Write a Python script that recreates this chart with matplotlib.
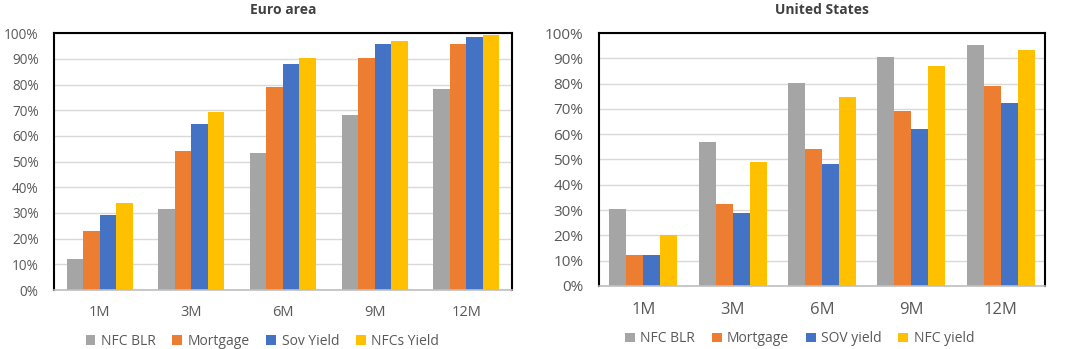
import matplotlib.pyplot as plt
import numpy as np

horizons = ["1M", "3M", "6M", "9M", "12M"]

# Euro area
ea_labels = ["NFC BLR", "Mortgage", "Sov Yield", "NFCs Yield"]
ea_nfc_blr = [12, 31.7, 53.5, 68.3, 78.4]
ea_mortgage = [22.9, 54.3, 79.0, 90.3, 95.6]
ea_sov = [29.4, 64.8, 87.8, 95.7, 98.6]
ea_nfc_yield = [33.8, 69.3, 90.4, 96.9, 99.1]

# United States
us_labels = ["NFC BLR", "Mortgage", "SOV yield", "NFC yield"]
us_nfc_blr = [30.5, 56.9, 80.1, 90.5, 95.5]
us_mortgage = [12.3, 32.3, 54.1, 69.3, 79.0]
us_sov = [12.3, 28.8, 48.3, 62.1, 72.3]
us_nfc_yield = [20.2, 49.2, 74.7, 87.1, 93.3]

colors = ["#A5A5A5", "#ED7D31", "#4472C4", "#FFC000"]
plt.rcParams['font.family'] = ['Open Sans', 'DejaVu Sans']

fig = plt.figure(figsize=(10.71, 3.49), dpi=100)
ax1 = fig.add_axes([0.0504, 0.169, 0.4276, 0.736])
ax2 = fig.add_axes([0.559, 0.181, 0.417, 0.724])


def draw(ax, series, labels, title, tick_fs, cat_fs, leg_fs, leg_x, leg_y, bw, xpad):
    x = np.arange(len(horizons))
    for i, vals in enumerate(series):
        ax.bar(x + (i - 1.5) * bw, vals, bw, color=colors[i], label=labels[i], zorder=2)
    ax.set_xlim(-0.5, 4.5)
    ax.set_ylim(0, 100)
    ax.set_yticks(range(0, 101, 10))
    ax.set_yticklabels([f"{v}%" for v in range(0, 101, 10)], fontsize=tick_fs, color="#595959")
    ax.set_xticks(x)
    ax.set_xticklabels(horizons, fontsize=cat_fs, color="#595959")
    ax.tick_params(axis="y", length=0, pad=11)
    ax.tick_params(axis="x", length=0, pad=xpad)
    ax.grid(axis="y", color="#D9D9D9", linewidth=1, zorder=0)
    for s in ["top", "left", "right"]:
        ax.spines[s].set_color("black")
        ax.spines[s].set_linewidth(1.5)
    ax.spines["bottom"].set_color("#BFBFBF")
    ax.spines["bottom"].set_linewidth(1.2)
    ax.set_title(title, fontsize=10, fontweight="bold", color="#404040", pad=14)
    ax.legend(loc="center", bbox_to_anchor=(leg_x, leg_y), ncol=4, frameon=False,
              fontsize=leg_fs, handlelength=0.7, handleheight=0.7, handletextpad=0.4,
              columnspacing=1.2, labelcolor="#595959")


draw(ax1, [ea_nfc_blr, ea_mortgage, ea_sov, ea_nfc_yield], ea_labels, "Euro area",
     9.8, 10.5, 10, 0.455, -0.2, 0.18, 11)
draw(ax2, [us_nfc_blr, us_mortgage, us_sov, us_nfc_yield], us_labels, "United States",
     11, 12, 10, 0.45, -0.21, 0.19, 12)

fig.savefig("out.png", dpi=100)
